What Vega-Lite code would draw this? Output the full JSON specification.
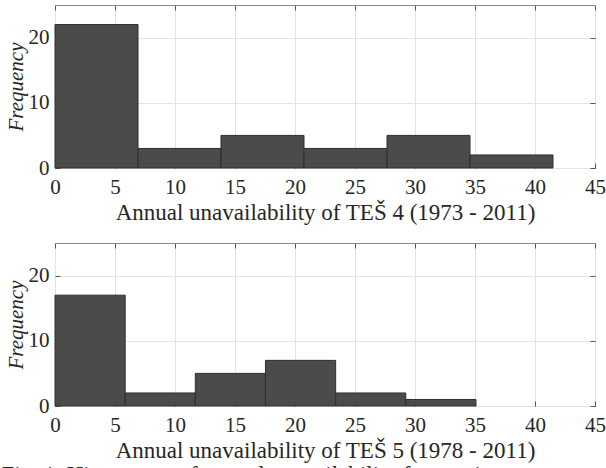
{
  "$schema": "https://vega.github.io/schema/vega-lite/v6.json",
  "padding": {"left": 1, "top": 4, "right": 5, "bottom": 0},
  "background": "white",
  "datasets": {
    "tes4": [
      {"bin_start": 0, "bin_end": 6.917, "count": 22},
      {"bin_start": 6.917, "bin_end": 13.833, "count": 3},
      {"bin_start": 13.833, "bin_end": 20.75, "count": 5},
      {"bin_start": 20.75, "bin_end": 27.667, "count": 3},
      {"bin_start": 27.667, "bin_end": 34.583, "count": 5},
      {"bin_start": 34.583, "bin_end": 41.5, "count": 2}
    ],
    "tes5": [
      {"bin_start": 0, "bin_end": 5.847, "count": 17},
      {"bin_start": 5.847, "bin_end": 11.693, "count": 2},
      {"bin_start": 11.693, "bin_end": 17.54, "count": 5},
      {"bin_start": 17.54, "bin_end": 23.387, "count": 7},
      {"bin_start": 23.387, "bin_end": 29.233, "count": 2},
      {"bin_start": 29.233, "bin_end": 35.08, "count": 1}
    ]
  },
  "config": {
    "font": "Liberation Serif",
    "view": {"stroke": "#888888", "strokeWidth": 1},
    "axis": {
      "labelFont": "Liberation Serif",
      "titleFont": "Liberation Serif",
      "labelColor": "#262626",
      "titleColor": "#262626",
      "labelFontSize": 21,
      "titleFontSize": 23,
      "titleFontWeight": "normal",
      "labelFlush": false,
      "domain": false,
      "gridColor": "#e3e3e3",
      "tickColor": "#555555",
      "tickSize": -5
    },
    "concat": {"spacing": 17}
  },
  "title": {
    "text": "Fig. 1. Histograms of annual unavailability for a unit",
    "orient": "bottom",
    "anchor": "start",
    "fontSize": 23,
    "font": "Liberation Serif",
    "fontWeight": "normal",
    "color": "#262626",
    "offset": 1,
    "dx": -3
  },
  "vconcat": [
    {
      "width": 540,
      "height": 163,
      "data": {"name": "tes4"},
      "layer": [
        {
          "mark": {"type": "rect", "fill": "#4b4b4b", "stroke": "#2e2e2e", "strokeWidth": 1},
          "encoding": {
            "x": {"field": "bin_start", "type": "quantitative", "scale": {"domain": [0, 45], "nice": false},
              "axis": {"orient": "bottom", "values": [0, 5, 10, 15, 20, 25, 30, 35, 40, 45], "title": "Annual unavailability of TEŠ 4 (1973 - 2011)", "labelPadding": 13, "titlePadding": 4, "grid": true}},
            "x2": {"field": "bin_end"},
            "y": {"field": "count", "type": "quantitative", "scale": {"domain": [0, 25], "nice": false},
              "axis": {"values": [0, 10, 20], "title": "Frequency", "titleFontStyle": "italic", "titleFontSize": 21, "labelPadding": 11, "titlePadding": 2, "grid": true}},
            "y2": {"datum": 0}
          }
        },
        {
          "mark": {"type": "rect", "opacity": 0},
          "encoding": {
            "x": {"field": "bin_start", "type": "quantitative", "scale": {"domain": [0, 45], "nice": false},
              "axis": {"orient": "top", "values": [0, 5, 10, 15, 20, 25, 30, 35, 40, 45], "labels": false, "grid": false, "title": null}},
            "x2": {"field": "bin_end"},
            "y": {"field": "count", "type": "quantitative", "scale": {"domain": [0, 25], "nice": false},
              "axis": {"orient": "right", "values": [0, 10, 20], "labels": false, "grid": false, "title": null}},
            "y2": {"datum": 0}
          }
        }
      ],
      "resolve": {"axis": {"x": "independent", "y": "independent"}}
    },
    {
      "width": 540,
      "height": 163,
      "data": {"name": "tes5"},
      "layer": [
        {
          "mark": {"type": "rect", "fill": "#4b4b4b", "stroke": "#2e2e2e", "strokeWidth": 1},
          "encoding": {
            "x": {"field": "bin_start", "type": "quantitative", "scale": {"domain": [0, 45], "nice": false},
              "axis": {"orient": "bottom", "values": [0, 5, 10, 15, 20, 25, 30, 35, 40, 45], "title": "Annual unavailability of TEŠ 5 (1978 - 2011)", "labelPadding": 13, "titlePadding": 4, "grid": true}},
            "x2": {"field": "bin_end"},
            "y": {"field": "count", "type": "quantitative", "scale": {"domain": [0, 25], "nice": false},
              "axis": {"values": [0, 10, 20], "title": "Frequency", "titleFontStyle": "italic", "titleFontSize": 21, "labelPadding": 11, "titlePadding": 2, "grid": true}},
            "y2": {"datum": 0}
          }
        },
        {
          "mark": {"type": "rect", "opacity": 0},
          "encoding": {
            "x": {"field": "bin_start", "type": "quantitative", "scale": {"domain": [0, 45], "nice": false},
              "axis": {"orient": "top", "values": [0, 5, 10, 15, 20, 25, 30, 35, 40, 45], "labels": false, "grid": false, "title": null}},
            "x2": {"field": "bin_end"},
            "y": {"field": "count", "type": "quantitative", "scale": {"domain": [0, 25], "nice": false},
              "axis": {"orient": "right", "values": [0, 10, 20], "labels": false, "grid": false, "title": null}},
            "y2": {"datum": 0}
          }
        }
      ],
      "resolve": {"axis": {"x": "independent", "y": "independent"}}
    }
  ]
}
